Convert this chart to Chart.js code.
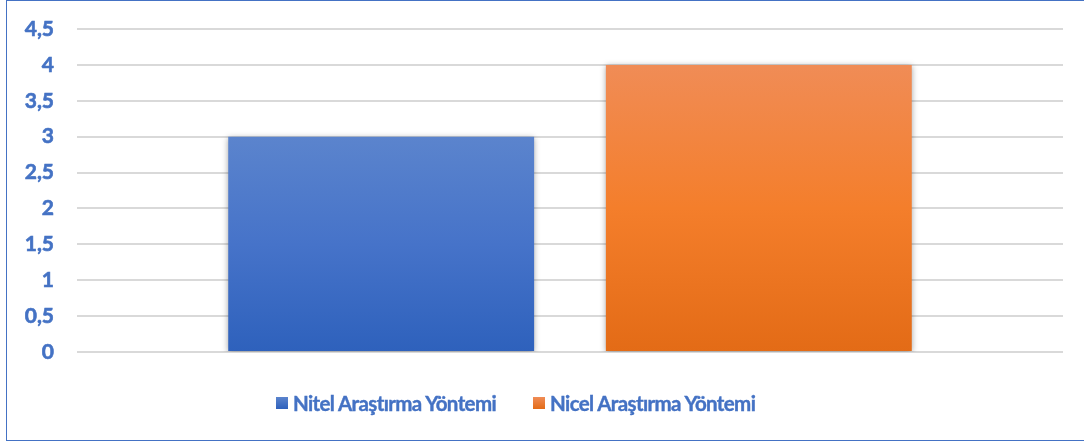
<!DOCTYPE html>
<html>
<head>
<meta charset="utf-8">
<script src="https://cdn.jsdelivr.net/npm/chart.js@4"></script>
<style>
  html, body { margin: 0; padding: 0; background: #fff; }
  #wrap { position: relative; width: 1084px; height: 444px; overflow: hidden; }
  #frame { position: absolute; left: 6px; top: 0px; width: 1100px; height: 441px; border: 1.5px solid #4472C4; box-sizing: border-box; }
  #c { position: absolute; left: 0; top: 0; }
  #legend { position: absolute; top: 391px; left: 276px; display: flex; align-items: center; font-family: Lato, "Noto Sans", sans-serif; font-weight: bold; font-size: 20.5px; letter-spacing: -0.62px; color: #4472C4; white-space: nowrap; -webkit-text-stroke: 0.4px #4472C4; }
  .item { display: flex; align-items: center; margin-right: 37px; }
  .sw { width: 12px; height: 12px; margin-right: 5px; }
</style>
</head>
<body>
<div id="wrap">
  <div id="frame"></div>
  <canvas id="c" width="1084" height="444"></canvas>
  <div id="legend"></div>
</div>
<script>
const categories = [""];
const seriesNames = ["Nitel Araştırma Yöntemi", "Nicel Araştırma Yöntemi"];
const seriesValues = [[3], [4]];
const yTicks = [0, 0.5, 1, 1.5, 2, 2.5, 3, 3.5, 4, 4.5];
const gradStops = [
  ["#5B84CD", "#4673C9", "#2E61BC"],
  ["#F08C56", "#F47E2B", "#E36B16"]
];

function makeGrad(i) {
  return function(ctx) {
    const chart = ctx.chart;
    const area = chart.chartArea;
    if (!area) return gradStops[i][1];
    const yScale = chart.scales.y;
    const top = yScale.getPixelForValue(seriesValues[i][0]);
    const bottom = yScale.getPixelForValue(0);
    const g = chart.ctx.createLinearGradient(0, top, 0, bottom);
    g.addColorStop(0, gradStops[i][0]);
    g.addColorStop(0.5, gradStops[i][1]);
    g.addColorStop(1, gradStops[i][2]);
    return g;
  };
}

const shadowPlugin = {
  id: 'shadow',
  beforeDatasetsDraw(chart) {
    const c = chart.ctx;
    c.save();
    c.shadowColor = 'rgba(0,0,0,0.35)';
    c.shadowBlur = 6;
    c.shadowOffsetX = 0;
    c.shadowOffsetY = 1;
  },
  afterDatasetsDraw(chart) { chart.ctx.restore(); }
};

const chart = new Chart(document.getElementById('c'), {
  type: 'bar',
  data: {
    labels: categories,
    datasets: seriesNames.map((n, i) => ({
      label: n,
      data: seriesValues[i],
      backgroundColor: makeGrad(i),
      borderWidth: 0,
      categoryPercentage: 0.766,
      barPercentage: 0.81
    }))
  },
  options: {
    responsive: false,
    animation: false,
    devicePixelRatio: 1,
    layout: { padding: { left: 0, right: 21, top: 29, bottom: 92 } },
    plugins: { legend: { display: false }, tooltip: { enabled: false } },
    scales: {
      x: {
        display: true,
        grid: { display: false, drawTicks: false },
        border: { display: false },
        ticks: { display: false }
      },
      y: {
        min: 0, max: 4.5,
        afterFit: s => { s.width = 77; s.paddingTop = 0; s.paddingBottom = 0; },
        afterBuildTicks: s => { s.ticks = yTicks.map(v => ({ value: v })); },
        grid: { color: '#D9D9D9', lineWidth: 2, drawTicks: false },
        border: { display: false },
        ticks: {
          padding: 23,
          color: '#4472C4',
          font: { family: 'Lato', weight: 'bold', size: 21 },
          textStrokeColor: '#4472C4',
          textStrokeWidth: 0.6,
          callback: v => String(v).replace('.', ',')
        }
      }
    }
  },
  plugins: [shadowPlugin]
});

const leg = document.getElementById('legend');
seriesNames.forEach((n, i) => {
  const it = document.createElement('div');
  it.className = 'item';
  const sw = document.createElement('span');
  sw.className = 'sw';
  sw.style.background = `linear-gradient(${gradStops[i][0]}, ${gradStops[i][2]})`;
  const t = document.createElement('span');
  t.textContent = n;
  it.appendChild(sw); it.appendChild(t);
  leg.appendChild(it);
});
</script>
</body>
</html>
